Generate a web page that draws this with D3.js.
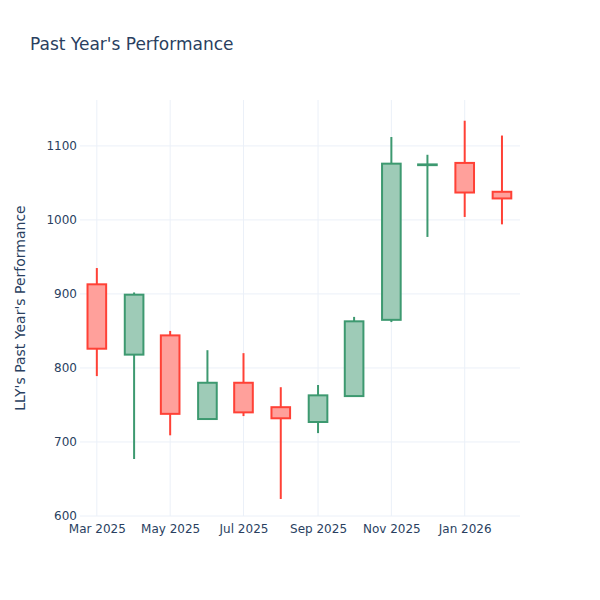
<!DOCTYPE html>
<html>
<head>
<meta charset="utf-8">
<script src="https://cdn.jsdelivr.net/npm/d3@7"></script>
<style>
  body { margin: 0; background: #fff; }
  text { font-family: "DejaVu Sans", sans-serif; fill: #2a3f5f; }
</style>
</head>
<body>
<script>
// monthly candles, LLY
const months = ["2025-03-01", "2025-04-01", "2025-05-01", "2025-06-01", "2025-07-01", "2025-08-01",
                "2025-09-01", "2025-10-01", "2025-11-01", "2025-12-01", "2026-01-01", "2026-02-01"];
const opens  = [913, 818, 844, 731, 780, 747, 727, 762, 865, 1074, 1077, 1038];
const highs  = [935, 902, 850, 824, 820, 774, 777, 869, 1112, 1088, 1134, 1114];
const lows   = [789, 677, 709, 730, 735, 623, 712, 762, 862, 977, 1004, 994];
const closes = [826, 899, 738, 780, 740, 732, 763, 863, 1076, 1075, 1037, 1029];
const yTicks = [600, 700, 800, 900, 1000, 1100];
const xTicks = ["2025-03-01", "2025-05-01", "2025-07-01", "2025-09-01", "2025-11-01", "2026-01-01"];

const parse = d3.utcParse("%Y-%m-%d");
const data = months.map((m, i) => ({
  date: parse(m), open: opens[i], high: highs[i], low: lows[i], close: closes[i]
}));

const W = 600, H = 600;
const margin = {top: 100, right: 80, bottom: 84, left: 80};

const svg = d3.select("body").append("svg")
  .attr("width", W).attr("height", H);

const x = d3.scaleUtc()
  .domain([d3.utcDay.offset(parse("2025-03-01"), -14), d3.utcDay.offset(parse("2026-02-01"), 15)])
  .range([margin.left, W - margin.right]);

const y = d3.scaleLinear()
  .domain([600, 1162])
  .range([H - margin.bottom, margin.top]);

// grid
svg.append("g").selectAll("line.xg")
  .data(xTicks.map(parse))
  .enter().append("line")
  .attr("x1", d => x(d)).attr("x2", d => x(d))
  .attr("y1", margin.top).attr("y2", H - margin.bottom)
  .attr("stroke", "#ebf0f8").attr("stroke-width", 1);

svg.append("g").selectAll("line.yg")
  .data(yTicks)
  .enter().append("line")
  .attr("x1", margin.left).attr("x2", W - margin.right)
  .attr("y1", d => y(d)).attr("y2", d => y(d))
  .attr("stroke", "#ebf0f8").attr("stroke-width", 1);

// axes labels
const yAxis = d3.axisLeft(y).tickValues(yTicks).tickSize(0).tickPadding(3).tickFormat(d3.format("d"));
const gy = svg.append("g").attr("transform", "translate(" + margin.left + ",0)").call(yAxis);
gy.select(".domain").remove();
gy.selectAll("text").attr("font-size", 12).style("font-family", "DejaVu Sans, sans-serif").attr("fill", "#2a3f5f");

const xAxis = d3.axisBottom(x).tickValues(xTicks.map(parse)).tickSize(0).tickPadding(8)
  .tickFormat(d3.utcFormat("%b %Y"));
const gx = svg.append("g").attr("transform", "translate(0," + (H - margin.bottom) + ")").call(xAxis);
gx.select(".domain").remove();
gx.selectAll("text").attr("font-size", 12).style("font-family", "DejaVu Sans, sans-serif").attr("fill", "#2a3f5f");

// candles
const up = "#3D9970", down = "#FF4136";
const step = x(parse("2025-04-01")) - x(parse("2025-03-01"));
const bw = step * 0.5;

const candle = svg.append("g").selectAll("g")
  .data(data)
  .enter().append("g");

candle.append("line")
  .attr("x1", d => x(d.date)).attr("x2", d => x(d.date))
  .attr("y1", d => y(d.high)).attr("y2", d => y(d.low))
  .attr("stroke", d => d.close >= d.open ? up : down)
  .attr("stroke-width", 2);

candle.append("rect")
  .attr("x", d => x(d.date) - bw / 2)
  .attr("width", bw)
  .attr("y", d => y(Math.max(d.open, d.close)))
  .attr("height", d => Math.max(0.01, Math.abs(y(d.open) - y(d.close))))
  .attr("fill", d => d.close >= d.open ? "#9ecbb7" : "#ffa09b")
  .attr("stroke", d => d.close >= d.open ? up : down)
  .attr("stroke-width", 2);

// title
svg.append("text")
  .attr("x", 30).attr("y", 50)
  .attr("font-size", 17)
  .text("Past Year's Performance");

svg.append("text")
  .attr("transform", "translate(25," + ((margin.top + H - margin.bottom) / 2) + ") rotate(-90)")
  .attr("text-anchor", "middle")
  .attr("font-size", 14)
  .text("LLY's Past Year's Performance");
</script>
</body>
</html>
